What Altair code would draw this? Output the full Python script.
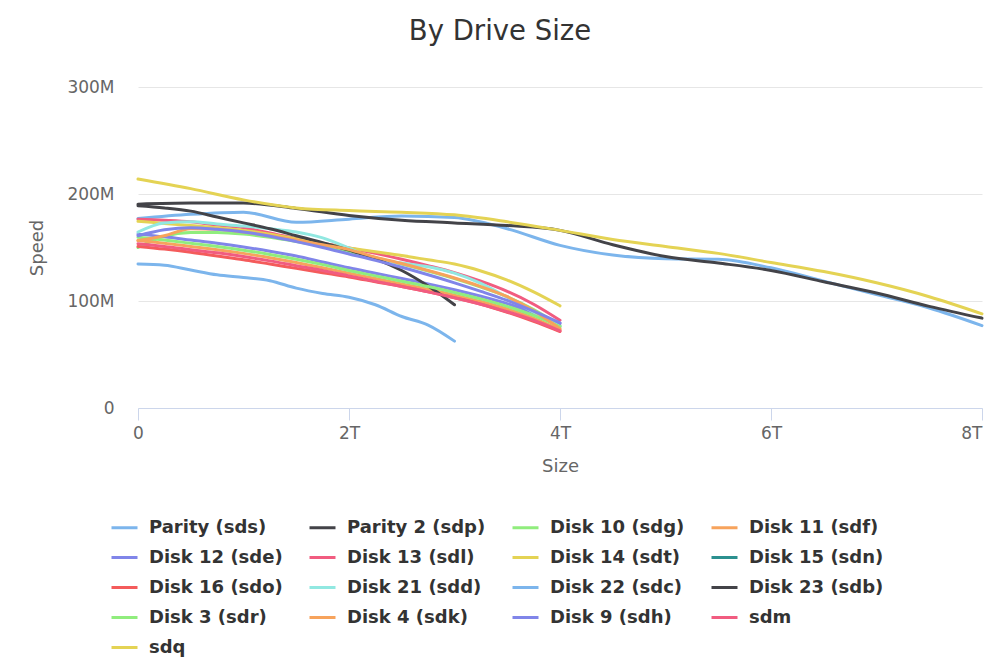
import altair as alt
import pandas as pd

# Capacity grids (TB) at which each drive was benchmarked
SIZE_8T = [0, 0.5, 1, 1.5, 2, 2.5, 3, 3.5, 4, 4.5, 5, 5.5, 6, 6.5, 7, 7.5, 8]
SIZE_4T = [0, 0.25, 0.5, 0.75, 1, 1.25, 1.5, 1.75, 2, 2.25, 2.5, 2.75, 3, 3.25, 3.5, 3.75, 4]
SIZE_3T = [0, 0.25, 0.5, 0.75, 1, 1.25, 1.5, 1.75, 2, 2.25, 2.5, 2.75, 3]

# Read speed (MB/s) at each position
PARITY_SDS = [177, 181, 183, 173.5, 176.5, 179.5, 178, 167.5, 152, 143, 139.5, 139, 131, 118.5, 106, 93.5, 77]
PARITY2_SDP = [190.5, 191.5, 191.5, 186.5, 180, 175.5, 173, 170.5, 166, 152.5, 141.5, 135.5, 128.5, 118, 107.5, 95, 84]
SDQ = [214, 205, 194.5, 187, 184.5, 183, 180.5, 174, 166, 157.5, 151, 144.5, 136, 127.5, 117, 104, 88]

DISK22_SDC = [134.5, 133.5, 129, 124.5, 122, 119, 112, 107, 103.5, 96.5, 85.5, 77.5, 62.5]
DISK23_SDB = [189, 187, 184, 178.5, 173, 167.5, 161, 154.5, 147.5, 139.5, 128.5, 114, 96.5]

DISK10_SDG = [150, 160.5, 164, 164, 162.5, 159.5, 155.5, 151, 146, 140.5, 134.5, 128, 121, 113, 104, 92, 77]
DISK11_SDF = [156.5, 154, 151, 148, 144.5, 140.5, 136, 131, 126, 121, 116, 111, 105.5, 99.5, 92.5, 84, 73]
DISK12_SDE = [162.5, 160, 157, 154, 150.5, 146.5, 142, 136.5, 131, 126, 121, 116, 110.5, 104.5, 97.5, 89, 79]
DISK13_SDL = [176.5, 175.5, 174, 171, 168.5, 163.5, 158.5, 154, 149.5, 144.5, 139, 133, 126.5, 118.5, 109, 97, 82]
DISK14_SDT = [174.5, 172.5, 170.5, 168.5, 166, 162.5, 158, 153.5, 149.5, 146, 142.5, 138.5, 134.5, 128, 119.5, 108.5, 95.5]
DISK16_SDO = [151, 148.5, 145.5, 142, 138.5, 134.5, 130.5, 126.5, 122.5, 118, 113.5, 108.5, 103, 97, 89.5, 81, 71.5]
DISK21_SDD = [164.5, 173, 174, 172, 170, 167.5, 164.5, 159, 149.5, 139, 135.5, 132, 126, 116.5, 103.5, 89.5, 76]
DISK3_SDR = [159.5, 157, 154, 151, 147.5, 143.5, 139, 134, 128.5, 123.5, 118.5, 113.5, 108, 102, 95, 86.5, 76]
DISK4_SDK = [156.5, 161, 167.5, 167, 164.5, 161, 157, 152.5, 148, 141, 135, 128.5, 121.5, 113.5, 104, 91, 74]
DISK9_SDH = [161, 166.5, 168.5, 167, 164.5, 160.5, 155.5, 150, 144, 138, 131.5, 124.5, 117, 109, 100.5, 90.5, 79.5]
SDM = [153.5, 151, 148, 145, 141.5, 137.5, 133, 128.5, 123.5, 118.5, 113.5, 108.5, 103, 97, 90, 82, 72]

# Legend order and palette
DRIVES = [
    "Parity (sds)", "Parity 2 (sdp)", "Disk 10 (sdg)", "Disk 11 (sdf)",
    "Disk 12 (sde)", "Disk 13 (sdl)", "Disk 14 (sdt)", "Disk 15 (sdn)",
    "Disk 16 (sdo)", "Disk 21 (sdd)", "Disk 22 (sdc)", "Disk 23 (sdb)",
    "Disk 3 (sdr)", "Disk 4 (sdk)", "Disk 9 (sdh)", "sdm", "sdq",
]
COLORS = [
    "#7cb5ec", "#434348", "#90ed7d", "#f7a35c", "#8085e9", "#f15c80",
    "#e4d354", "#2b908f", "#f45b5b", "#91e8e1", "#7cb5ec", "#434348",
    "#90ed7d", "#f7a35c", "#8085e9", "#f15c80", "#e4d354",
]

# Disk 15 has no benchmark results; it only appears in the legend
curves = [
    ("Parity (sds)", SIZE_8T, PARITY_SDS),
    ("Parity 2 (sdp)", SIZE_8T, PARITY2_SDP),
    ("Disk 10 (sdg)", SIZE_4T, DISK10_SDG),
    ("Disk 11 (sdf)", SIZE_4T, DISK11_SDF),
    ("Disk 12 (sde)", SIZE_4T, DISK12_SDE),
    ("Disk 13 (sdl)", SIZE_4T, DISK13_SDL),
    ("Disk 14 (sdt)", SIZE_4T, DISK14_SDT),
    ("Disk 16 (sdo)", SIZE_4T, DISK16_SDO),
    ("Disk 21 (sdd)", SIZE_4T, DISK21_SDD),
    ("Disk 22 (sdc)", SIZE_3T, DISK22_SDC),
    ("Disk 23 (sdb)", SIZE_3T, DISK23_SDB),
    ("Disk 3 (sdr)", SIZE_4T, DISK3_SDR),
    ("Disk 4 (sdk)", SIZE_4T, DISK4_SDK),
    ("Disk 9 (sdh)", SIZE_4T, DISK9_SDH),
    ("sdm", SIZE_4T, SDM),
    ("sdq", SIZE_8T, SDQ),
]

rows = []
for name, sizes, speeds in curves:
    for s, v in zip(sizes, speeds):
        rows.append({"drive": name, "size": s, "speed": v})
df = pd.DataFrame(rows)

FONT = "DejaVu Sans"

chart = (
    alt.Chart(df)
    .mark_line(interpolate="monotone", strokeWidth=3, strokeCap="round", strokeJoin="round")
    .encode(
        x=alt.X(
            "size:Q",
            title="Size",
            scale=alt.Scale(domain=[0, 8], nice=False, zero=True),
            axis=alt.Axis(
                values=[0, 2, 4, 6, 8],
                labelExpr="datum.value == 0 ? '0' : datum.value + 'T'",
                labelFlush=False,
                labelAlign={"condition": {"test": "datum.value == 8", "value": "right"}, "value": "center"},
                grid=False,
                domainColor="#ccd6eb",
                tickColor="#ccd6eb",
                tickSize=12,
                labelPadding=5,
                titlePadding=16,
            ),
        ),
        y=alt.Y(
            "speed:Q",
            title="Speed",
            scale=alt.Scale(domain=[0, 300], nice=False),
            axis=alt.Axis(
                values=[0, 100, 200, 300],
                labelExpr="datum.value == 0 ? '0' : datum.value + 'M'",
                domain=False,
                ticks=False,
                tickSize=0,
                gridColor="#e6e6e6",
                labelPadding=24,
                titlePadding=20,
            ),
        ),
        color=alt.Color(
            "drive:N",
            scale=alt.Scale(domain=DRIVES, range=COLORS),
            legend=alt.Legend(
                title=None,
                orient="none",
                direction="horizontal",
                legendX=-28,
                legendY=426,
                columns=4,
                symbolType="stroke",
                symbolSize=676,
                symbolStrokeWidth=3,
                labelFont=FONT,
                labelFontSize=18,
                labelFontWeight="bold",
                labelColor="#333333",
                labelOffset=10,
                columnPadding=20,
                rowPadding=6,
            ),
        ),
    )
    .properties(
        width=844,
        height=321,
        autosize=alt.AutoSizeParams(type="none"),
        padding={"left": 138, "top": 87, "right": 18, "bottom": 259},
        background="white",
        title=alt.TitleParams(
            "By Drive Size",
            font=FONT,
            fontSize=27.5,
            fontWeight="normal",
            color="#333333",
            anchor="middle",
            dx=-60,
            offset=33,
        ),
    )
    .configure_axis(
        labelFont=FONT,
        labelFontSize=17,
        labelColor="#666666",
        titleFont=FONT,
        titleFontSize=18,
        titleFontWeight="normal",
        titleColor="#666666",
    )
    .configure_view(strokeWidth=0)
)

chart.save("out.html", embed_options={"renderer": "svg", "actions": False})
